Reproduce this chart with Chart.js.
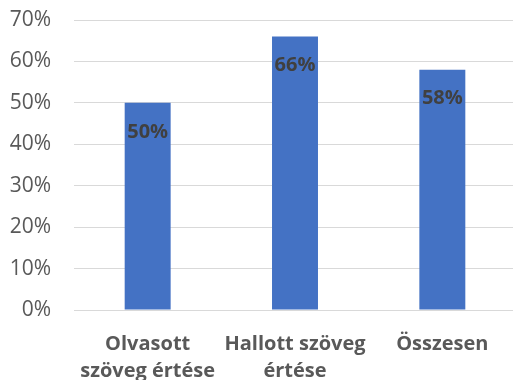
<!DOCTYPE html>
<html>
<head>
<meta charset="utf-8">
<script src="https://cdn.jsdelivr.net/npm/chart.js@4"></script>
<style>
  html, body { margin: 0; padding: 0; background: #fff; overflow: hidden; }
  #wrap { width: 516px; height: 380px; }
</style>
</head>
<body>
<div id="wrap"><canvas id="c"></canvas></div>
<script>
const categories = [["Olvasott", "szöveg értése"], ["Hallott szöveg", "értése"], ["Összesen"]];
const values = [50, 66, 58];
const yTicks = [0, 10, 20, 30, 40, 50, 60, 70];

const FONT = "'Open Sans', 'DejaVu Sans', sans-serif";

// value labels drawn just inside the top of each bar
const barLabels = {
  id: 'barLabels',
  afterDatasetsDraw(chart) {
    const ctx = chart.ctx;
    const meta = chart.getDatasetMeta(0);
    ctx.save();
    ctx.font = "bold 20px " + FONT;
    ctx.fillStyle = '#404040';
    ctx.textAlign = 'center';
    ctx.textBaseline = 'middle';
    meta.data.forEach((bar, i) => {
      ctx.fillText(values[i] + '%', bar.x, bar.y + 29);
    });
    ctx.restore();
  }
};

new Chart(document.getElementById('c'), {
  type: 'bar',
  data: {
    labels: categories,
    datasets: [{
      data: values,
      backgroundColor: '#4472C4',
      barPercentage: 0.312,
      categoryPercentage: 1.0
    }]
  },
  options: {
    responsive: true,
    maintainAspectRatio: false,
    animation: false,
    layout: { padding: { top: 20, left: 0, right: 0, bottom: 0 } },
    plugins: { legend: { display: false }, tooltip: { enabled: false } },
    scales: {
      x: {
        grid: { display: false, drawTicks: false },
        border: { color: '#d9d9d9', width: 1 },
        ticks: {
          color: '#595959',
          font: { family: FONT, size: 20, weight: 'bold', lineHeight: 1.35 },
          padding: 21,
          maxRotation: 0,
          autoSkip: false
        },
        afterFit(axis) {
          axis.height = 70;
          axis.paddingLeft = 0;
          axis.paddingRight = 0;
        }
      },
      y: {
        min: 0,
        max: 70,
        afterBuildTicks(axis) { axis.ticks = yTicks.map(v => ({ value: v })); },
        grid: { color: '#d9d9d9', lineWidth: 1, drawTicks: false },
        border: { display: false },
        ticks: {
          color: '#595959',
          font: { family: FONT, size: 21 },
          padding: 23,
          callback: v => v + '%'
        },
        afterFit(axis) {
          axis.width = 74;
          axis.paddingTop = 0;
          axis.paddingBottom = 0;
        }
      }
    }
  },
  plugins: [barLabels]
});
</script>
</body>
</html>
